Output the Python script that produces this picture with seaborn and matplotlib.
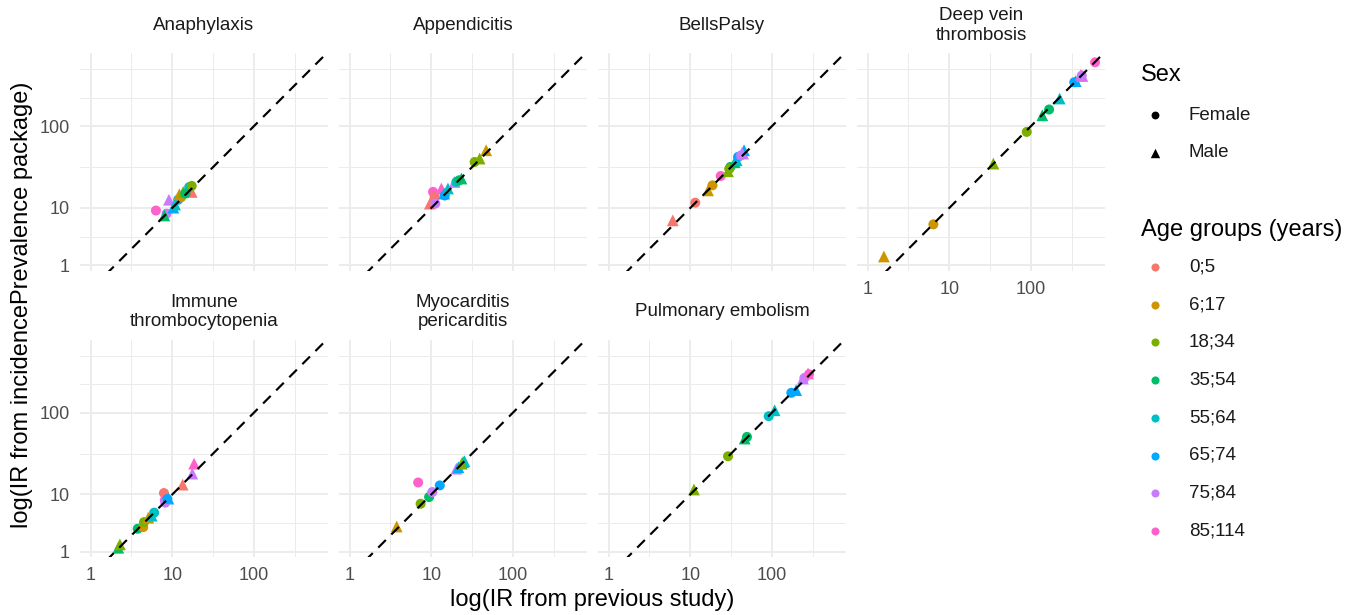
import numpy as np
import pandas as pd
import matplotlib
matplotlib.use("Agg")
import matplotlib.pyplot as plt
import seaborn as sns

# ---------------- data ----------------
OUTCOMES = ["Anaphylaxis", "Appendicitis", "BellsPalsy", "Deep vein\nthrombosis",
            "Immune\nthrombocytopenia", "Myocarditis\npericarditis", "Pulmonary embolism"]
AGES = ["0;5", "6;17", "18;34", "35;54", "55;64", "65;74", "75;84", "85;114"]
SEXES = ["Female", "Male"]
PALETTE = ["#F8766D", "#CD9600", "#7CAE00", "#00BE67", "#00BFC4", "#00A9FF", "#C77CFF", "#FF61CC"]

outcome = (["Anaphylaxis"] * 14 + ["Appendicitis"] * 15 + ["BellsPalsy"] * 15 +
           ["Deep vein\nthrombosis"] * 13 + ["Immune\nthrombocytopenia"] * 16 +
           ["Myocarditis\npericarditis"] * 11 + ["Pulmonary embolism"] * 12)
age = [
    # Anaphylaxis
    "85;114", "75;84", "75;84", "35;54", "65;74", "65;74", "55;64", "6;17", "6;17", "18;34", "0;5", "55;64", "18;34", "35;54",
    # Appendicitis
    "85;114", "0;5", "0;5", "75;84", "85;114", "65;74", "65;74", "55;64", "75;84", "55;64", "35;54", "35;54", "18;34", "18;34", "6;17",
    # BellsPalsy
    "0;5", "0;5", "6;17", "6;17", "85;114", "18;34", "35;54", "18;34", "35;54", "55;64", "65;74", "75;84", "85;114", "65;74", "75;84",
    # Deep vein thrombosis
    "6;17", "6;17", "18;34", "18;34", "35;54", "35;54", "55;64", "65;74", "65;74", "75;84", "85;114", "75;84", "85;114",
    # Immune thrombocytopenia
    "35;54", "18;34", "35;54", "6;17", "18;34", "6;17", "55;64", "55;64", "0;5", "65;74", "85;114", "75;84", "65;74", "0;5", "75;84", "85;114",
    # Myocarditis pericarditis
    "6;17", "18;34", "35;54", "75;84", "65;74", "85;114", "75;84", "65;74", "35;54", "55;64", "18;34",
    # Pulmonary embolism
    "18;34", "18;34", "35;54", "35;54", "55;64", "55;64", "65;74", "65;74", "75;84", "85;114", "75;84", "85;114",
]
sex = [
    # Anaphylaxis
    "Female", "Male", "Female", "Male", "Male", "Female", "Male", "Male", "Female", "Male", "Male", "Female", "Female", "Female",
    # Appendicitis
    "Female", "Male", "Female", "Female", "Male", "Male", "Female", "Male", "Male", "Female", "Male", "Female", "Female", "Male", "Male",
    # BellsPalsy
    "Male", "Female", "Male", "Female", "Female", "Male", "Female", "Female", "Male", "Male", "Female", "Female", "Male", "Male", "Male",
    # Deep vein thrombosis
    "Male", "Female", "Male", "Female", "Male", "Female", "Male", "Male", "Female", "Male", "Male", "Female", "Female",
    # Immune thrombocytopenia
    "Male", "Male", "Female", "Female", "Female", "Male", "Female", "Male", "Female", "Male", "Female", "Female", "Female", "Male", "Male", "Male",
    # Myocarditis pericarditis
    "Male", "Female", "Female", "Female", "Female", "Female", "Male", "Male", "Male", "Male", "Male",
    # Pulmonary embolism
    "Male", "Female", "Male", "Female", "Female", "Male", "Female", "Male", "Male", "Male", "Female", "Female",
]
ir_previous = [
    6.3, 9.1, 8.5, 8.0, 10.3, 11.8, 10.8, 12.2, 12.8, 13.6, 17.3, 16.1, 17.3, 14.5,
    10.5, 9.6, 11.0, 11.2, 13.3, 14.4, 14.6, 16.0, 19.3, 20.3, 23.4, 22.0, 34.0, 39.1, 47.0,
    6.1, 11.5, 16.5, 18.7, 23.6, 29.0, 31.0, 30.0, 35.0, 37.0, 38.5, 42.0, 44.3, 45.6, 43.0,
    1.58, 6.38, 34.7, 88.9, 138, 167, 225, 354, 340, 428, 410, 420, 611,
    2.18, 2.28, 3.77, 4.4, 4.5, 5.08, 6.0, 5.6, 7.9, 8.95, 8.1, 8.2, 8.7, 13.4, 17.6, 18.5,
    3.77, 7.4, 9.4, 10.3, 12.7, 6.9, 20.3, 21.5, 24.5, 25.5, 23.5,
    11.1, 29.0, 46.4, 49.5, 91.4, 108, 173, 198, 240, 277, 250, 285,
]
ir_package = [
    9.3, 12.6, 8.5, 8.1, 10.1, 12.6, 11.0, 14.7, 13.5, 15.7, 15.7, 18.0, 18.6, 15.0,
    15.7, 11.3, 13.6, 11.3, 17.3, 15.0, 14.2, 17.3, 20.8, 20.8, 22.9, 21.8, 36.5, 40.2, 50.8,
    7.05, 11.6, 16.4, 18.9, 24.6, 28.1, 31.7, 30.0, 36.2, 38.3, 42.1, 44.0, 46.3, 50.8, 47.0,
    2.55, 6.3, 34.9, 85.1, 136, 160, 218, 356, 345, 410, 425, 415, 604,
    2.23, 2.45, 3.81, 3.98, 4.59, 5.2, 5.99, 5.5, 10.4, 8.9, 8.5, 7.94, 8.8, 13.2, 18.0, 23.8,
    4.06, 7.7, 9.3, 10.7, 12.9, 14.0, 20.7, 21.5, 24.9, 25.5, 23.8,
    11.5, 29.3, 48.3, 50.5, 90.6, 107, 175, 189, 262, 302, 265, 295,
]

X_TICKS = [1, 10, 100]
X_TICK_LABELS = ["1", "10", "100"]
Y_TICKS = [2, 10, 100]
Y_TICK_LABELS = ["1", "10", "100"]

df = pd.DataFrame({"outcome": outcome, "age": age, "sex": sex,
                   "prev": ir_previous, "est": ir_package})

# ---------------- style ----------------
sns.set_style("white")
plt.rcParams["font.family"] = ["Liberation Sans", "DejaVu Sans"]

W, H = 1357, 615
fig = plt.figure(figsize=(W / 100, H / 100), dpi=100)

XLIM = (10 ** -0.131, 10 ** 2.908)
YLIM = (10 ** 0.235, 10 ** 2.895)
x_minor = [10 ** 0.5, 10 ** 1.5, 10 ** 2.5]
lt = np.log10(Y_TICKS)
bd = lt[1] - lt[0]
y_minor = [10 ** ((lt[0] + lt[1]) / 2), 10 ** ((lt[1] + lt[2]) / 2),
           10 ** (lt[2] + bd / 2), 10 ** (lt[2] + bd)]

lefts = [80, 339, 598, 857]
tops = [53, 339.5]
pw, ph = 248, 217.5

def rect(l, t, w, h):
    return [l / W, 1 - (t + h) / H, w / W, h / H]

for i, name in enumerate(OUTCOMES):
    r, c = divmod(i, 4)
    ax = fig.add_axes(rect(lefts[c], tops[r], pw, ph))
    ax.set_xscale("log")
    ax.set_yscale("log")
    ax.set_xlim(*XLIM)
    ax.set_ylim(*YLIM)
    sub = df[df["outcome"] == name]
    sns.scatterplot(data=sub, x="prev", y="est", hue="age", style="sex",
                    size="sex", sizes={"Female": 52, "Male": 72},
                    hue_order=AGES, style_order=SEXES, palette=PALETTE,
                    markers={"Female": "o", "Male": "^"}, linewidth=0,
                    legend=False, ax=ax, zorder=2)
    xs = np.geomspace(XLIM[0], XLIM[1], 60)
    ax.plot(xs, xs, color="black", lw=1.55, ls=(0, (5, 3.6)), zorder=3)
    ax.set_xticks(X_TICKS)
    ax.set_xticklabels(X_TICK_LABELS)
    ax.set_xticks(x_minor, minor=True)
    ax.set_yticks(Y_TICKS)
    ax.set_yticklabels(Y_TICK_LABELS)
    ax.set_yticks(y_minor, minor=True)
    ax.set_xticklabels([], minor=True)
    ax.set_yticklabels([], minor=True)
    ax.grid(which="major", color="#EBEBEB", lw=1.3, zorder=0)
    ax.grid(which="minor", color="#EBEBEB", lw=0.7, zorder=0)
    ax.set_axisbelow(True)
    for sp in ax.spines.values():
        sp.set_visible(False)
    ax.tick_params(which="both", length=0, labelsize=13, labelcolor="#4D4D4D")
    ax.tick_params(axis="x", pad=7.5)
    ax.tick_params(axis="y", pad=7.5)
    show_x = (r == 1) or (i == 3)
    if not show_x:
        ax.tick_params(axis="x", labelbottom=False)
    if c != 0:
        ax.tick_params(axis="y", labelleft=False)
    ax.set_xlabel("")
    ax.set_ylabel("")
    ax.text(0.5, 1 + 27.5 / ph, name, transform=ax.transAxes, ha="center",
            va="center", fontsize=13.5, color="#1A1A1A", linespacing=1.2)

fig.text(592 / W, 1 - 600 / H, "log(IR from previous study)", ha="center",
         va="center", fontsize=17, color="black")
fig.text(22 / W, 1 - 305 / H, "log(IR from incidencePrevalence package)",
         ha="center", va="center", rotation=90, fontsize=17, color="black")

# ---------------- legends ----------------
lax = fig.add_axes([0, 0, 1, 1])
lax.set_xlim(0, W)
lax.set_ylim(H, 0)
lax.axis("off")
lax.text(1141, 75, "Sex", ha="left", va="center", fontsize=17, color="black")
for k, (lab, mk, sz) in enumerate(zip(SEXES, ["o", "^"], [32, 46])):
    yy = 115 + 37.5 * k
    lax.scatter([1155], [yy], marker=mk, s=sz, color="black", linewidths=0)
    lax.text(1189, yy, lab, ha="left", va="center", fontsize=13.5, color="#1A1A1A")
lax.text(1141, 230, "Age groups (years)", ha="left", va="center", fontsize=17, color="black")
for k, (lab, col) in enumerate(zip(AGES, PALETTE)):
    yy = 267 + 37.7 * k
    lax.scatter([1155], [yy], marker="o", s=34, color=col, linewidths=0)
    lax.text(1189, yy, lab, ha="left", va="center", fontsize=13.5, color="#1A1A1A")

fig.savefig("out.png", dpi=100)
